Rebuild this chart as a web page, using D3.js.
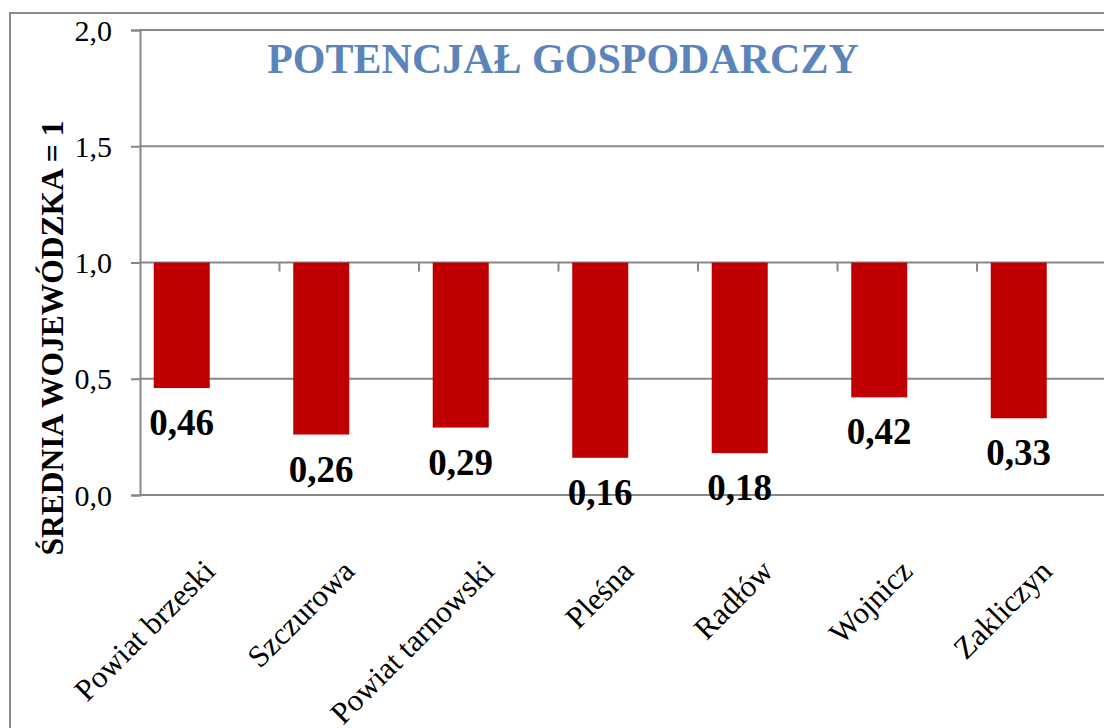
<!DOCTYPE html>
<html>
<head>
<meta charset="utf-8">
<script src="https://cdn.jsdelivr.net/npm/d3@7"></script>
<style>
  body { margin: 0; background: #fff; }
  svg text { font-family: "Liberation Serif", "Times New Roman", serif !important; }
</style>
</head>
<body>
<div id="container"></div>
<script>
let w = 1104;
let h = 728;

// data
let categories = ["Powiat brzeski", "Szczurowa", "Powiat tarnowski", "Pleśna", "Radłów", "Wojnicz", "Zakliczyn"];
let values = [0.46, 0.26, 0.29, 0.16, 0.18, 0.42, 0.33];
let yTicks = [0, 0.5, 1, 1.5, 2];
let baseValue = 1;
let title = "POTENCJAŁ GOSPODARCZY";
let yTitle = "ŚREDNIA WOJEWÓDZKA = 1";

let viz = d3.select("#container")
  .append("svg")
    .attr("width", w)
    .attr("height", h)
;

// outer frame
viz.append("rect")
  .attr("x", 10)
  .attr("y", 13)
  .attr("width", 1300)
  .attr("height", 900)
  .attr("fill", "none")
  .attr("stroke", "#8a8a8a")
  .attr("stroke-width", 2)
;

let xScale = d3.scaleBand().domain(categories).range([140, 140 + 139.5 * categories.length]);
// second (empty) series slot, as in the original chart
let subScale = d3.scaleBand().domain(["a", "b"]).range([0, xScale.bandwidth()]).paddingOuter(0.245);
let yScale = d3.scaleLinear().domain([0, 2]).range([495, 30]);

// gridlines
viz.append("g").attr("class", "grid")
  .selectAll("line").data(yTicks).enter()
  .append("line")
    .attr("x1", 140)
    .attr("x2", w)
    .attr("y1", function(d){return yScale(d)})
    .attr("y2", function(d){return yScale(d)})
    .attr("stroke", "#878787")
    .attr("stroke-width", 2)
;

// y axis
let yAxis = d3.axisLeft(yScale)
  .tickValues(yTicks)
  .tickSize(9)
  .tickPadding(19)
  .tickFormat(function(d){return d3.format(".1f")(d).replace(".", ",")});
let yAxisGroup = viz.append("g").attr("class", "yaxis").attr("transform", "translate(140, 0)");
yAxisGroup.call(yAxis);
yAxisGroup.attr("font-family", null);
yAxisGroup.select(".domain").attr("stroke", "#878787").attr("stroke-width", 2);
yAxisGroup.selectAll(".tick line").attr("stroke", "#878787").attr("stroke-width", 2);
yAxisGroup.selectAll(".tick text")
  .attr("font-size", 30)
  .attr("fill", "#000")
  .attr("dy", "0.34em")
;

// category ticks on the base line (value 1)
viz.append("g").attr("class", "xticks")
  .selectAll("line").data(categories.slice(1)).enter()
  .append("line")
    .attr("x1", function(d){return xScale(d)})
    .attr("x2", function(d){return xScale(d)})
    .attr("y1", yScale(baseValue))
    .attr("y2", yScale(baseValue) + 9)
    .attr("stroke", "#878787")
    .attr("stroke-width", 2)
;

// bars hanging from the base line
let barGroup = viz.append("g").attr("class", "bars");
barGroup.selectAll("rect").data(values).enter()
  .append("rect")
    .attr("x", function(d, i){return xScale(categories[i]) + subScale("a")})
    .attr("y", yScale(baseValue))
    .attr("width", subScale.bandwidth())
    .attr("height", function(d){return yScale(d) - yScale(baseValue)})
    .attr("fill", "#c00000")
;

// value labels
barGroup.selectAll("text").data(values).enter()
  .append("text")
    .text(function(d){return d3.format(".2f")(d).replace(".", ",")})
    .attr("x", function(d, i){return xScale(categories[i]) + subScale("a") + subScale.bandwidth() / 2})
    .attr("y", function(d){return yScale(d) + 47})
    .attr("text-anchor", "middle")
    .attr("font-size", 37)
    .attr("font-weight", "bold")
    .attr("fill", "#000")
;

// category labels
viz.append("g").attr("class", "xlabels")
  .selectAll("text").data(categories).enter()
  .append("text")
    .text(function(d){return d})
    .attr("transform", function(d){
      let x = xScale(d) + xScale.bandwidth() / 2 + 7;
      return "translate(" + x + ", 573) rotate(-45)";
    })
    .attr("text-anchor", "end")
    .attr("font-size", 31)
    .attr("fill", "#000")
;

// title
viz.append("text")
  .text(title)
  .attr("x", 563)
  .attr("y", 73)
  .attr("text-anchor", "middle")
  .attr("font-size", 42)
  .attr("font-weight", "bold")
  .attr("fill", "#5b85ba")
;

// y axis title
viz.append("text")
  .text(yTitle)
  .attr("transform", "translate(63, 338) rotate(-90)")
  .attr("text-anchor", "middle")
  .attr("font-size", 31.5)
  .attr("font-weight", "bold")
  .attr("fill", "#000")
;
</script>
</body>
</html>
